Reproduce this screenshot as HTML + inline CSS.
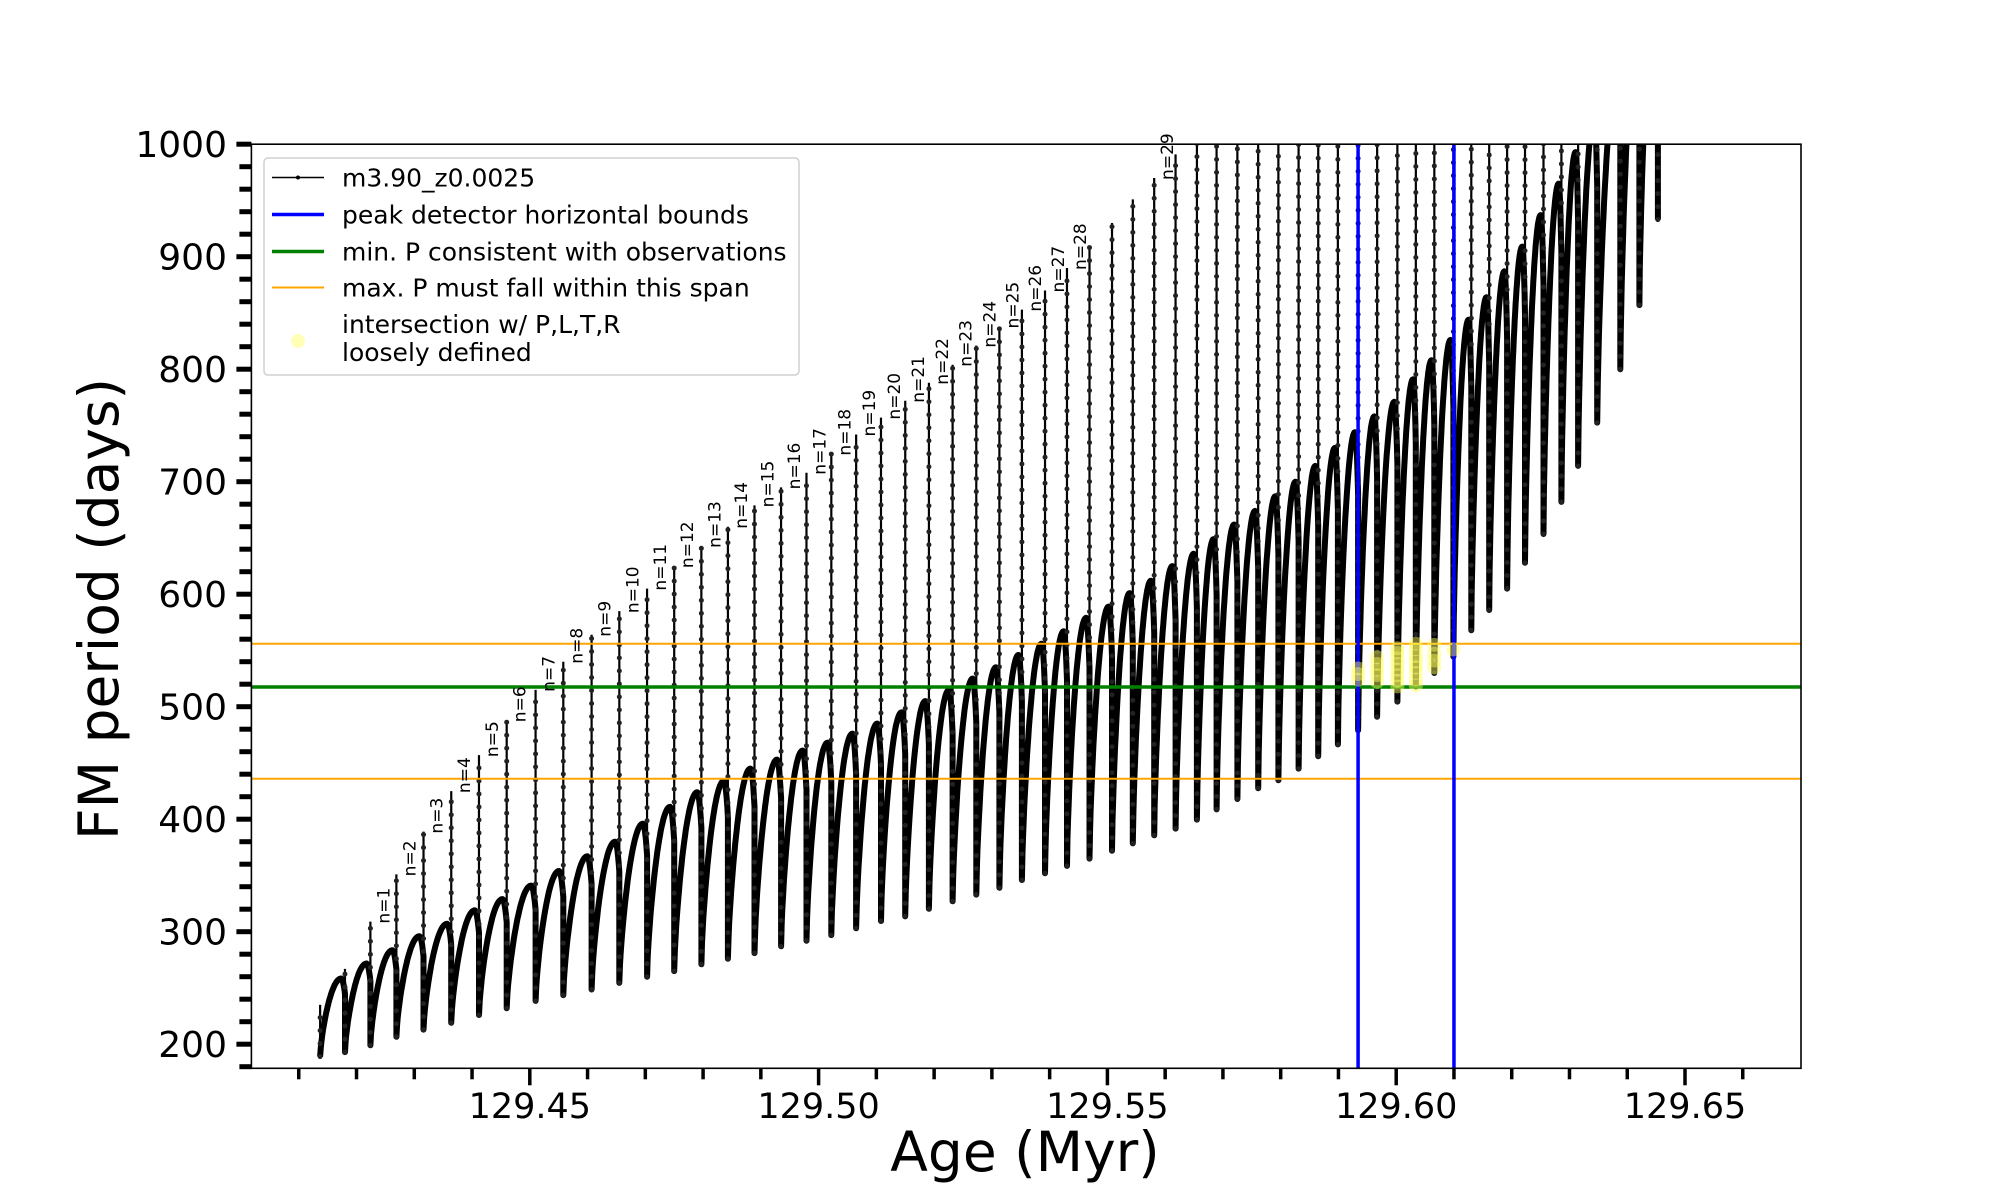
<!DOCTYPE html>
<html><head><meta charset="utf-8">
<style>
html,body{margin:0;padding:0;background:#fff;}
svg{display:block;font-family:"DejaVu Sans","Liberation Sans",sans-serif;}
</style></head>
<body>
<svg id="chart" width="2000" height="1200" viewBox="0 0 2000 1200" xmlns="http://www.w3.org/2000/svg">
<defs><clipPath id="plotclip"><rect x="251.4" y="144.2" width="1549.6" height="924.1"/></clipPath></defs>
<rect x="0" y="0" width="2000" height="1200" fill="#fff"/>
<g id="data" clip-path="url(#plotclip)"></g>
<g id="labels"></g>
<g id="axes"></g>
<g id="legend"></g>
</svg>
<script>
// ---- data ----
const pulseAges = [129.4137,129.4180,129.4224,129.4269,129.4316,129.4364,129.4412,129.4460,129.4510,129.4558,
129.4607,129.4655,129.4703,129.4750,129.4797,129.4843,129.4889,129.4935,129.4979,129.5022,
129.5065,129.5108,129.5150,129.5191,129.5232,129.5273,129.5313,129.5352,129.5392,129.5430,
129.5469,129.5508,129.5544,129.5581,129.5618,129.5655,129.5689,129.5725,129.5761,129.5796,
129.5831,129.5865,129.5899,129.5934,129.5967,129.6002,129.6034,129.6066,129.6099,129.6130,
129.6161,129.6192,129.6223,129.6255,129.6286,129.6315,129.6348,129.6388,129.6421,129.6453];
const spikeTop = [235,267,309,351,389,425,457,488,515,540,564,585,605,625,643,660,679,695,708,725,742,757,
772,788,804,821,838,853,870,890,910,930,951,970,991,
1100,1100,1100,1100,1100,1100,1100,1100,1100,1100,1100,1100,1100,1100,1100,1100,1100,1100,1100,1100,1100,1100,1100,1100,1100];
const spikeMin = [189,193,199,206.6,213,219,226,232,238.5,243.6,248.6,254.5,260,265,271,276,281,287,292,297,303,309.5,
313.6,320.4,327,333,339,346,352,358.5,365,372,378.5,385.7,391.6,399.6,408.7,418,427.5,434.6,445,456,466.5,
479,491,504.5,518,530,544.5,568,586,605,628,653.5,682,714,752.5,800,857,933];
const curveMax = [258.4,271.7,283.5,296,307,319,329,341,354,367,380,396,411,424,434,445,453,461,468,476,485,
495,505,515,525,535,546,556,567,579,589,601,612,625,636,649,662,674,687,700,714,730,744,758,771,791,808,826,
844,864,887,909,937,965,993,1025,1060,1100,1140];
const labelPulse = [2,3,4,5,6,7,8,9,10,11,12,13,14,15,16,17,18,19,20,21,22,23,24,25,26,27,28,29,33];
const labelText = ["n=1","n=2","n=3","n=4","n=5","n=6","n=7","n=8","n=9","n=10","n=11","n=12","n=13","n=14","n=15","n=16","n=17","n=18","n=19","n=20","n=21","n=22","n=23","n=24","n=25","n=26","n=27","n=28","n=29"];
const blueAges = [129.5934,129.6100];
const greenP = [517.5];
const orangeP = [556,436];
const yellowAges = [129.5934,129.5934,129.5934,129.5967,129.5967,129.5967,129.5967,129.5967,
129.6002,129.6002,129.6002,129.6002,129.6002,129.6002,129.6002,129.6002,
129.6034,129.6034,129.6034,129.6034,129.6034,129.6034,129.6034,129.6034,
129.6066,129.6066,129.6066,129.6066,129.6099];
const yellowP = [524,529,534,522,528,533,538,544,518,523,528,533,538,543,548,552,
519,524,530,535,540,545,551,556,535,541,547,555,551];
const yTicks = [200,300,400,500,600,700,800,900,1000];
const yTickLabels = ["200","300","400","500","600","700","800","900","1000"];
const xTicks = [129.45,129.50,129.55,129.60,129.65];
const xTickLabels = ["129.45","129.50","129.55","129.60","129.65"];

// ---- scales ----
const L=251.4,R=1801,T=144.2,B=1068.3;
function X(a){return L+(a-129.4018)*5776;}
function Y(p){return T+(1000-p)*1.125;}
const NS="http://www.w3.org/2000/svg";
function mk(tag,attrs,parent){const e=document.createElementNS(NS,tag);for(const k in attrs)e.setAttribute(k,attrs[k]);parent.appendChild(e);return e;}
const gd=document.getElementById('data');
const glab=document.getElementById('labels');
const ga=document.getElementById('axes');
const gl=document.getElementById('legend');

// thick curve
let pts=[];
for(let i=0;i<pulseAges.length-1;i++){
  const t0=pulseAges[i],t1=pulseAges[i+1],mn=spikeMin[i],mx=curveMax[i];
  for(let k=0;k<=40;k++){
    const u=k/40;let s;
    if(u<=0.85)s=Math.pow(Math.sin(Math.PI/2*u/0.85),0.7);
    else s=1-Math.pow((u-0.85)/0.15,2)*0.2;
    pts.push(X(t0+(t1-t0)*u).toFixed(1)+","+Y(mn+(mx-mn)*s).toFixed(1));
  }
  pts.push(X(t1).toFixed(1)+","+Y(spikeMin[i+1]).toFixed(1));
}
const curve=mk('polyline',{points:pts.join(' '),fill:'none',stroke:'#000','stroke-width':6,'stroke-linejoin':'round'},gd);



// spikes
for(let i=0;i<pulseAges.length;i++){
  const x=X(pulseAges[i]);
  const ln=mk('line',{x1:x,x2:x,y1:Y(spikeMin[i]),y2:Y(spikeTop[i]),stroke:'#000','stroke-width':2.2},gd);
  
  
  mk('line',{x1:x,x2:x,y1:Y(spikeMin[i]),y2:Y(spikeTop[i]),stroke:'#222','stroke-width':5,'stroke-linecap':'round','stroke-dasharray':'0 13'},gd);
}
// labels
for(let j=0;j<labelPulse.length;j++){
  const i=labelPulse[j];const x=X(pulseAges[i])+19,y=Y(spikeTop[i])+2;
  const tx=mk('text',{x:0,y:0,transform:`translate(${x},${y}) rotate(-90)`,'font-size':17,fill:'#000'},glab);
  tx.textContent=labelText[j];
  
  
}
// reference lines
orangeP.forEach(p=>{const l=mk('line',{x1:L,x2:R,y1:Y(p),y2:Y(p),stroke:'#ffa500','stroke-width':2},gd);
  
  });
greenP.forEach(p=>{const l=mk('line',{x1:L,x2:R,y1:Y(p),y2:Y(p),stroke:'#008000','stroke-width':3.5},gd);
  
  });
blueAges.forEach(a=>{const l=mk('line',{x1:X(a),x2:X(a),y1:T,y2:B,stroke:'#0000ff','stroke-width':3.5},gd);
  
  });
for(let i=0;i<yellowAges.length;i++){
  const c=mk('circle',{cx:X(yellowAges[i]),cy:Y(yellowP[i]),r:7,fill:'#ffff60','fill-opacity':0.45},gd);
  
  
}

// frame
const fr=mk('rect',{x:L,y:T,width:R-L,height:B-T,fill:'none',stroke:'#000','stroke-width':1.6},ga);


// y ticks
for(let p=180;p<=1000;p+=20){
  const major=(p%100===0);
  mk('line',{x1:L-(major?15:12),x2:L,y1:Y(p),y2:Y(p),stroke:'#000','stroke-width':5},ga);
}
yTicks.forEach((p,i)=>{const t=mk('text',{x:227,y:Y(p)+13,'text-anchor':'end','font-size':36,fill:'#000'},ga);
  t.textContent=yTickLabels[i];
  
  });
// x ticks
for(let k=41;k<=66;k++){
  const a=129+k/100;const major=(k%5===0);
  mk('line',{x1:X(a),x2:X(a),y1:B,y2:B+(major?17:11),stroke:'#000','stroke-width':3.5},ga);
}
xTicks.forEach((a,i)=>{const t=mk('text',{x:X(a),y:1118,'text-anchor':'middle','font-size':35,fill:'#000'},ga);
  t.textContent=xTickLabels[i];
  
  });
const xl=mk('text',{x:1025,y:1171,'text-anchor':'middle','font-size':55,fill:'#000'},ga);
xl.textContent='Age (Myr)';


const yl=mk('text',{x:0,y:0,transform:'translate(118,609) rotate(-90)','text-anchor':'middle','font-size':55,fill:'#000'},ga);
yl.textContent='FM period (days)';



// legend
const lb=mk('rect',{x:264,y:158,width:535,height:217,rx:4,fill:'#fff','fill-opacity':0.85,stroke:'#d0d0d0','stroke-width':1.5},gl);


const entries=[
 {y:177.5,t:['m3.90_z0.0025'],c:'#000',w:1.6,name:'legend-entry-model'},
 {y:214.5,t:['peak detector horizontal bounds'],c:'#0000ff',w:3.5,name:'legend-entry-peak-bounds'},
 {y:251.5,t:['min. P consistent with observations'],c:'#008000',w:3.5,name:'legend-entry-min-period'},
 {y:287.5,t:['max. P must fall within this span'],c:'#ffa500',w:2,name:'legend-entry-max-period'},
 {y:324,t:['intersection w/ P,L,T,R','loosely defined'],c:null,name:'legend-entry-intersection'}
];
entries.forEach(e=>{
  const g=mk('g',{},gl);
  
  
  if(e.c){mk('line',{x1:272,x2:324,y1:e.y,y2:e.y,stroke:e.c,'stroke-width':e.w},g);
    if(e.name==='legend-entry-model')mk('circle',{cx:298,cy:e.y,r:2,fill:'#000'},g);}
  else mk('circle',{cx:298,cy:341,r:7,fill:'#ffff60','fill-opacity':0.45},g);
  e.t.forEach((s,k)=>{const t=mk('text',{x:342,y:e.y+9+k*28,'font-size':25,fill:'#000'},g);t.textContent=s;});
});
</script>
</body></html>
